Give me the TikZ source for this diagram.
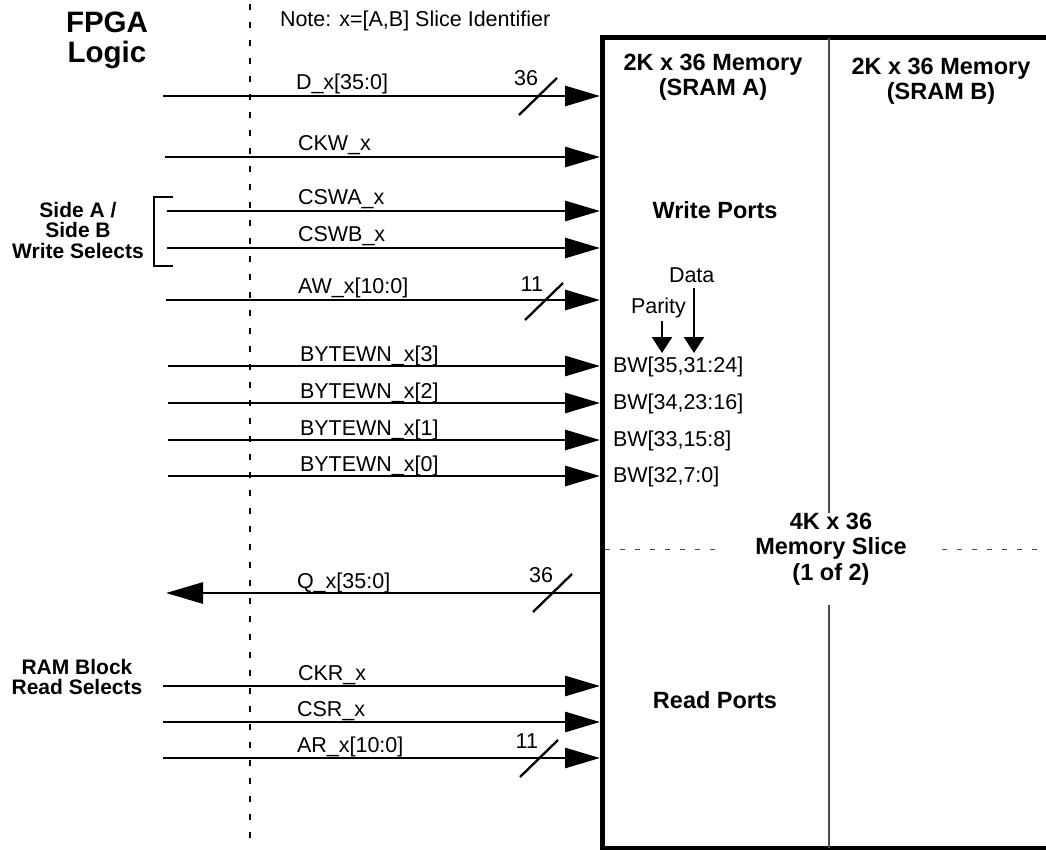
\documentclass[tikz,border=0pt]{standalone}
\usepackage{fontspec}
\setmainfont{Liberation Sans}
\usetikzlibrary{arrows.meta}
\begin{document}
\begin{tikzpicture}[x=1pt,y=-1pt,
  every node/.style={inner sep=0pt, outer sep=0pt},
  sig/.style={line width=2.8pt, -{Triangle[length=35pt,width=20pt]}},
  osig/.style={line width=2.8pt, -{Triangle[length=37pt,width=21pt]}},
  slash/.style={line width=2.3pt},
  sname/.style={anchor=base west, font=\fontsize{21.5}{24}\selectfont},
  bus/.style={anchor=base east, font=\fontsize{21.5}{24}\selectfont},
  title/.style={align=center, font=\bfseries\fontsize{23.5}{24.5}\selectfont},
  side/.style={align=center, font=\bfseries\fontsize{21}{20.5}\selectfont},
  ptr/.style={line width=2.4pt, -{Triangle[length=16pt,width=20pt]}},
  divider/.style={line width=1.6pt, black!70},
  fence/.style={line width=1.2pt, dash pattern=on 6pt off 12pt},
  halfline/.style={line width=1pt, black!70, dash pattern=on 5pt off 10pt},
]
\useasboundingbox (0,0) rectangle (1046,850);
\clip (0,0) rectangle (1046,850);

% memory slice box (open to the right)
\coordinate (boxNE) at (1060,38);
\coordinate (boxNW) at (602,38);
\coordinate (boxSW) at (602,848);
\coordinate (boxSE) at (1060,848);
\draw[line width=5pt, line join=miter] (boxNE) -- (boxNW) -- (boxSW) -- (boxSE);
\coordinate (divT) at (829,38);
\coordinate (divM1) at (829,537);
\coordinate (divM2) at (829,605);
\coordinate (divB) at (829,848);
\draw[divider] (divT) -- (divM1);
\draw[divider] (divM2) -- (divB);
\coordinate (hA1) at (605,549);
\coordinate (hA2) at (722,549);
\coordinate (hB1) at (942,549);
\coordinate (hB2) at (1046,549);
\draw[halfline] (hA1) -- (hA2);
\draw[halfline] (hB1) -- (hB2);

% FPGA boundary
\coordinate (fT) at (250,4);
\coordinate (fB) at (250,848);
\draw[fence] (fT) -- (fB);

% headings
\node[align=center, font=\bfseries\fontsize{29.5}{30}\selectfont] (fpga) at (107,40) {FPGA\\Logic};
\node[anchor=base west, font=\fontsize{21.5}{24}\selectfont] (note) at (280,27) {Note: x=[A,B] Slice Identifier};
\node[title] (sramA) at (713,77) {2K x 36 Memory\\(SRAM A)};
\node[title] (sramB) at (941,81) {2K x 36 Memory\\(SRAM B)};
\node[title] (wports) at (715,210) {Write Ports};
\node[title] (rports) at (715,700) {Read Ports};
\node[title, fill=white, inner xsep=2pt, font=\bfseries\fontsize{23.5}{25.5}\selectfont] (slice) at (831,549) {4K x 36\\Memory Slice\\(1 of 2)};

% D bus
\coordinate (dS) at (163,96); \coordinate (dE) at (600,96);
\draw[sig] (dS) -- (dE);
\node[sname] (dL) at (296,90) {D\_x[35:0]};
\coordinate (dB) at (538,96.5);
\draw[slash] (dB) ++(-19,18.5) -- ++(38,-37);
\node[bus] (dN) at (538,86) {36};

% CKW
\coordinate (ckwS) at (165,157); \coordinate (ckwE) at (600,157);
\draw[sig] (ckwS) -- (ckwE);
\node[sname] (ckwL) at (298,151) {CKW\_x};

% write selects
\coordinate (cswaS) at (167,211); \coordinate (cswaE) at (600,211);
\draw[sig] (cswaS) -- (cswaE);
\node[sname] (cswaL) at (298,205) {CSWA\_x};
\coordinate (cswbS) at (167,248); \coordinate (cswbE) at (600,248);
\draw[sig] (cswbS) -- (cswbE);
\node[sname] (cswbL) at (298,242) {CSWB\_x};
\coordinate (brT) at (173,197); \coordinate (brTL) at (154,197);
\coordinate (brBL) at (154,266); \coordinate (brB) at (173,266);
\draw[line width=2.6pt] (brT) -- (brTL) -- (brBL) -- (brB);
\node[side] (wsel) at (78,230) {Side A /\\Side B\\Write Selects};

% AW bus
\coordinate (awS) at (166,300); \coordinate (awE) at (600,300);
\draw[sig] (awS) -- (awE);
\node[sname] (awL) at (298,294) {AW\_x[10:0]};
\coordinate (awB) at (544,301.5);
\draw[slash] (awB) ++(-19,18.5) -- ++(38,-37);
\node[bus] (awN) at (543,291) {11};

% parity / data pointers
\node[anchor=base west, font=\fontsize{21.5}{24}\selectfont] (dataT) at (669,282) {Data};
\node[anchor=base west, font=\fontsize{21.5}{24}\selectfont] (parT) at (631,313) {Parity};
\coordinate (dataP1) at (694,288); \coordinate (dataP2) at (694,353);
\coordinate (parP1) at (662,321); \coordinate (parP2) at (662,353);
\draw[ptr] (dataP1) -- (dataP2);
\draw[ptr] (parP1) -- (parP2);

% byte write enables
\foreach \i/\y/\bw in {3/366/{35,31:24}, 2/403/{34,23:16}, 1/440/{33,15:8}, 0/476/{32,7:0}} {
  \coordinate (bS\i) at (168,\y); \coordinate (bE\i) at (600,\y);
  \draw[sig] (bS\i) -- (bE\i);
  \node[sname] (bL\i) at (300,\y-5) {BYTEWN\_x[\i]};
  \node[sname] (bw\i) at (613,\y+6.5) {BW[\bw]};
}

% Q bus (output)
\coordinate (qS) at (600,593); \coordinate (qE) at (166,593);
\draw[osig] (qS) -- (qE);
\node[sname] (qL) at (297,588) {Q\_x[35:0]};
\coordinate (qB) at (552,593);
\draw[slash] (qB) ++(-19,19) -- ++(39,-38);
\node[bus] (qN) at (553,582) {36};

% read side
\node[side] (rsel) at (77,677) {RAM Block\\Read Selects};
\coordinate (ckrS) at (163,686); \coordinate (ckrE) at (600,686);
\draw[sig] (ckrS) -- (ckrE);
\node[sname] (ckrL) at (298,680) {CKR\_x};
\coordinate (csrS) at (163,722); \coordinate (csrE) at (600,722);
\draw[sig] (csrS) -- (csrE);
\node[sname] (csrL) at (297,716) {CSR\_x};
\coordinate (arS) at (163,758); \coordinate (arE) at (600,758);
\draw[sig] (arS) -- (arE);
\node[sname] (arL) at (297,752) {AR\_x[10:0]};
\coordinate (arB) at (539,758.5);
\draw[slash] (arB) ++(-19,18.5) -- ++(38,-37);
\node[bus] (arN) at (538,748) {11};
\end{tikzpicture}
\end{document}
